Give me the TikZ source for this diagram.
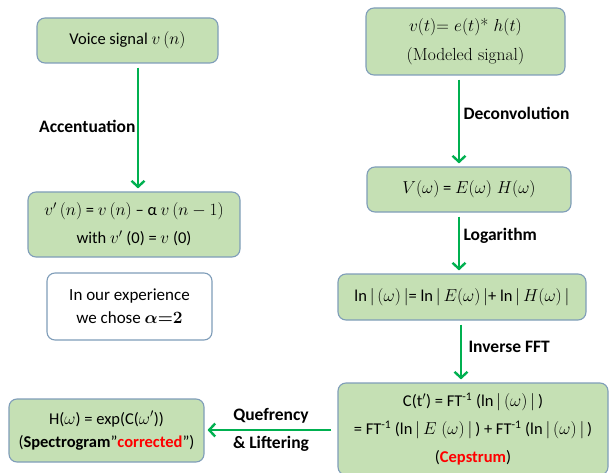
\documentclass[tikz,border=0pt]{standalone}
\usepackage{fontspec}
\usepackage{bm}
\setsansfont{Carlito}
\usetikzlibrary{arrows.meta}

\definecolor{boxfill}{HTML}{C5E0B4}
\definecolor{boxline}{HTML}{7F9DB9}
\definecolor{arrowgreen}{HTML}{00B050}

\tikzset{
	greenbox/.style={draw=boxline, line width=1.1pt, fill=boxfill, rounded corners=8pt,
		align=center, font=\sffamily\fontsize{16.5}{28}\selectfont, inner sep=0pt},
	notebox/.style={greenbox, fill=white},
	flowarrow/.style={->, >={Straight Barb[length=6pt, width=13pt, line width=2.4pt]},
		line width=2.4pt, color=arrowgreen, shorten <=4pt, shorten >=3pt},
	steplabel/.style={font=\sffamily\bfseries\fontsize{17.5}{29}\selectfont, text=black, align=left}
}

\begin{document}
\begin{tikzpicture}[x=1pt, y=-1pt]
	\useasboundingbox (0, 0) rectangle (610, 473);
	% left column
	\node[greenbox, minimum width=181pt, minimum height=45pt] (voice) at (127.5, 40.5) {Voice signal $v\,(n)$};
	\node[greenbox, minimum width=212pt, minimum height=65pt] (preemph) at (134, 224.5)
		{$v'\,(n)$ = $v\,(n)$ -- α $v\,(n-1)$\\ with $v'$ (0) = $v$ (0)};
	\node[notebox, minimum width=165pt, minimum height=67pt, font=\sffamily\fontsize{17}{23}\selectfont] (note) at (129.5, 306.5)
		{In our experience\\ we chose {\boldmath$\alpha{=}2$}};
	\node[greenbox, minimum width=195pt, minimum height=63pt, font=\sffamily\fontsize{16.5}{23}\selectfont] (spectro) at (106.5, 430.5)
		{H($\omega$) = exp(C($\omega'$))\\ (\textbf{Spectrogram}"\textbf{\color{red}corrected}")};
	% right column
	\node[greenbox, minimum width=199pt, minimum height=67pt, font=\rmfamily\fontsize{17.5}{29}\selectfont] (model) at (465.5, 41.5)
		{$v(t)$= $e(t)$* $h(t)$\\ (Modeled signal)};
	\node[greenbox, minimum width=204pt, minimum height=45pt] (spectrum) at (469, 189.5)
		{$V(\omega)$ = $E(\omega)\;H(\omega)$};
	\node[greenbox, minimum width=248pt, minimum height=46pt] (logspec) at (462, 297)
		{ln$\,|\,(\omega)\,|$= ln$\,|\,E(\omega)\,|$+ ln$\,|\,H(\omega)\,|$};
	\node[greenbox, minimum width=270pt, minimum height=92pt, font=\sffamily\fontsize{16.5}{28}\selectfont] (cepstrum) at (473, 429)
		{C(t$'$) = FT\textsuperscript{-1} (ln$\,|\,(\omega)\,|\,$)\\
		 = FT\textsuperscript{-1} (ln$\,|\,E\;(\omega)\,|\,$) + FT\textsuperscript{-1} (ln$\,|\,(\omega)\,|\,$)\\
		 (\textbf{\color{red}Cepstrum})};
	% arrows
	\draw[flowarrow] ([xshift=10.5pt]voice.south) -- ([xshift=10.5pt]voice.south |- preemph.north)
		node[steplabel, pos=0.49, left, xshift=2pt, text=black] {Accentuation};
	\draw[flowarrow] ([xshift=-6.5pt]model.south) -- ([xshift=-6.5pt]model.south |- spectrum.north)
		node[steplabel, pos=0.42, right, text=black] {Deconvolution};
	\draw[flowarrow] ([xshift=-10pt]spectrum.south) -- ([xshift=-10pt]spectrum.south |- logspec.north)
		node[steplabel, pos=0.38, right, text=black] {Logarithm};
	\draw[flowarrow] ([xshift=-1pt]logspec.south) -- ([xshift=-1pt]logspec.south |- cepstrum.north)
		node[steplabel, pos=0.42, right, xshift=3pt, text=black] {Inverse FFT};
	\draw[flowarrow, shorten <=6pt] (cepstrum.west |- 0, 430) -- (spectro.east |- 0, 430)
		node[steplabel, midway, above, yshift=2pt, text=black] {Quefrency}
		node[steplabel, midway, below, yshift=-2pt, text=black] {\&~Liftering};
\end{tikzpicture}
\end{document}
